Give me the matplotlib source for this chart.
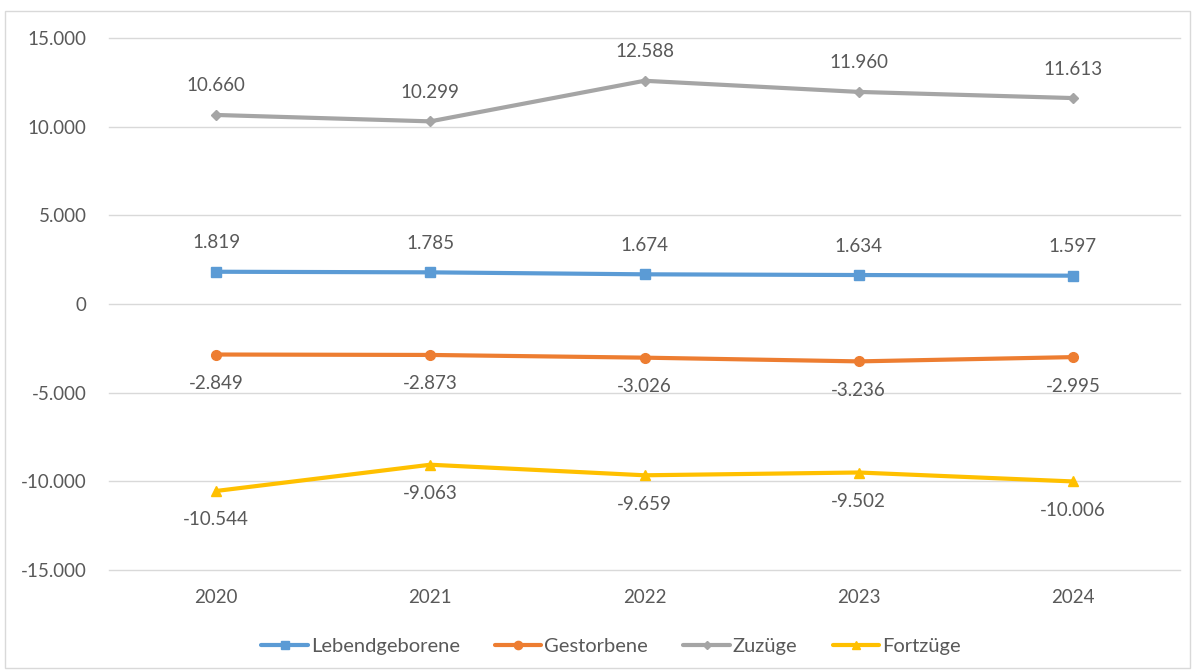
import matplotlib
matplotlib.use("Agg")
import matplotlib.pyplot as plt
from matplotlib.patches import Rectangle
from matplotlib.ticker import FuncFormatter

years = ["2020", "2021", "2022", "2023", "2024"]
lebendgeborene = [1819, 1785, 1674, 1634, 1597]
gestorbene = [-2849, -2873, -3026, -3236, -2995]
zuzuege = [10660, 10299, 12588, 11960, 11613]
fortzuege = [-10544, -9063, -9659, -9502, -10006]

series = [
    ("Lebendgeborene", lebendgeborene, "#5B9BD5", "s", 1),
    ("Gestorbene", gestorbene, "#ED7D31", "o", -1),
    ("Zuzüge", zuzuege, "#A5A5A5", "D", 1),
    ("Fortzüge", fortzuege, "#FFC000", "^", -1),
]

plt.rcParams['font.family'] = ['Lato', 'DejaVu Sans']
text_color = "#595959"
fs = 13.5

fig = plt.figure(figsize=(11.98, 6.71), dpi=100)
fig.patches.append(Rectangle((5/1198, 1 - 668/671), 1185/1198, 657/671,
                             transform=fig.transFigure, fill=False,
                             edgecolor="#D9D9D9", linewidth=1))
ax = fig.add_axes([109/1198, 1 - 570/671, (1180 - 109)/1198, (570 - 38)/671])

def de_fmt(v):
    s = f"{abs(int(round(v))):,}".replace(",", ".")
    return ("-" if v < 0 else "") + s

x = list(range(len(years)))
for name, vals, col, mk, side in series:
    ms = 7
    if mk == "D":
        ms = 5
    ax.plot(x, vals, color=col, linewidth=3, marker=mk, markersize=ms,
            label=name, solid_capstyle="round")
    for xi, v in zip(x, vals):
        ax.annotate(de_fmt(v), (xi, v), xytext=(0, 29 * side), textcoords="offset pixels",
                    ha="center", va="center", fontsize=fs, color=text_color)

ax.set_xlim(-0.5, len(years) - 0.5)
ax.set_ylim(-15000, 15000)
ax.set_yticks(range(-15000, 15001, 5000))
ax.yaxis.set_major_formatter(FuncFormatter(lambda v, p: de_fmt(v)))
ax.set_xticks(x)
ax.set_xticklabels(years)
ax.grid(axis="y", color="#D9D9D9", linewidth=1)
for gl in ax.get_ygridlines():
    gl.set_clip_on(False)
ax.set_axisbelow(True)
for sp in ax.spines.values():
    sp.set_visible(False)
ax.tick_params(axis="both", length=0, labelsize=fs, colors=text_color)
ax.tick_params(axis="y", pad=16)
ax.tick_params(axis="x", pad=14)

leg = fig.legend(loc="center", bbox_to_anchor=(611/1198, 1 - 646/671), ncol=4,
                 frameon=False, prop={'size': 14.5},
                 handlelength=2.3, columnspacing=1.75, handletextpad=0.15, markerscale=0.85)
for t in leg.get_texts():
    t.set_color(text_color)

fig.savefig("out.png", dpi=100)
